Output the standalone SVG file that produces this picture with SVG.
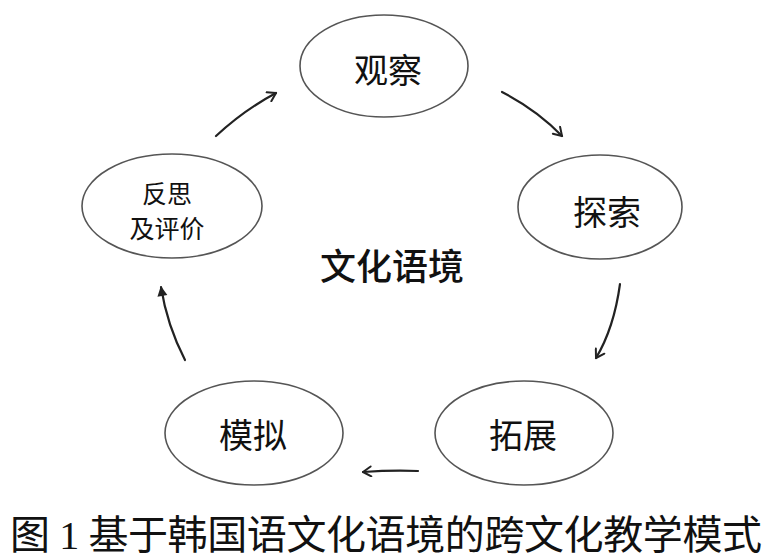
<svg xmlns="http://www.w3.org/2000/svg" width="769" height="560" viewBox="0 0 769 560">
<style>
.node ellipse{fill:#fff;stroke:#555;stroke-width:1.6}
.lbl{font-family:"Noto Sans CJK SC","Noto Sans",sans-serif;fill:#111;text-anchor:middle;dominant-baseline:central}
.arr{fill:none;stroke:#222;stroke-width:2.2;stroke-linecap:round}
.cap{font-family:"Liberation Serif","Noto Sans CJK SC",serif;fill:#111;font-size:40px}
</style>
<defs>
<marker id="ah" viewBox="0 0 12 12" refX="10" refY="6" markerWidth="12" markerHeight="12" markerUnits="userSpaceOnUse" orient="auto">
<path d="M2,1 L10,6 L2,11" fill="none" stroke="#222" stroke-width="2" stroke-linecap="round" stroke-linejoin="round"/>
</marker>
<marker id="ahf" viewBox="0 0 12 12" refX="10" refY="6" markerWidth="12" markerHeight="12" markerUnits="userSpaceOnUse" orient="auto">
<path d="M1,1 L11,6 L1,11 Z" fill="#222"/>
</marker>
</defs>
<rect width="769" height="560" fill="#fff"/>
<g id="connectors">
<path class="arr" d="M502,92 Q537,110 562,136" marker-end="url(#ah)"/>
<path class="arr" d="M620,284 Q614,328 596,358" marker-end="url(#ah)"/>
<path class="arr" d="M418,471 Q392,470 363,472" marker-end="url(#ah)"/>
<path class="arr" d="M185,360 Q167,325 161,287" marker-end="url(#ahf)"/>
<path class="arr" d="M216,136 Q244,110 276,93" marker-end="url(#ah)"/>
</g>
<g id="node-guancha" class="node">
<ellipse cx="384" cy="66" rx="84" ry="51"/>
<text class="lbl" x="388" y="68" font-size="34">观察</text>
</g>
<g id="node-tansuo" class="node">
<ellipse cx="600" cy="207" rx="82" ry="52"/>
<text class="lbl" x="607" y="210" font-size="34">探索</text>
</g>
<g id="node-tuozhan" class="node">
<ellipse cx="524" cy="433" rx="89" ry="52"/>
<text class="lbl" x="523" y="433" font-size="34">拓展</text>
</g>
<g id="node-moni" class="node">
<ellipse cx="254" cy="433" rx="89" ry="52"/>
<text class="lbl" x="253" y="433" font-size="34">模拟</text>
</g>
<g id="node-fansi" class="node">
<ellipse cx="172" cy="206" rx="90" ry="52"/>
<text class="lbl" x="167" y="192" font-size="25">反思</text>
<text class="lbl" x="167" y="227" font-size="25">及评价</text>
</g>
<g id="center">
<text class="lbl" x="392" y="264" font-size="36" font-weight="500">文化语境</text>
</g>
<text class="cap" x="10" y="549" textLength="752" lengthAdjust="spacing">图 1 基于韩国语文化语境的跨文化教学模式</text>
</svg>
